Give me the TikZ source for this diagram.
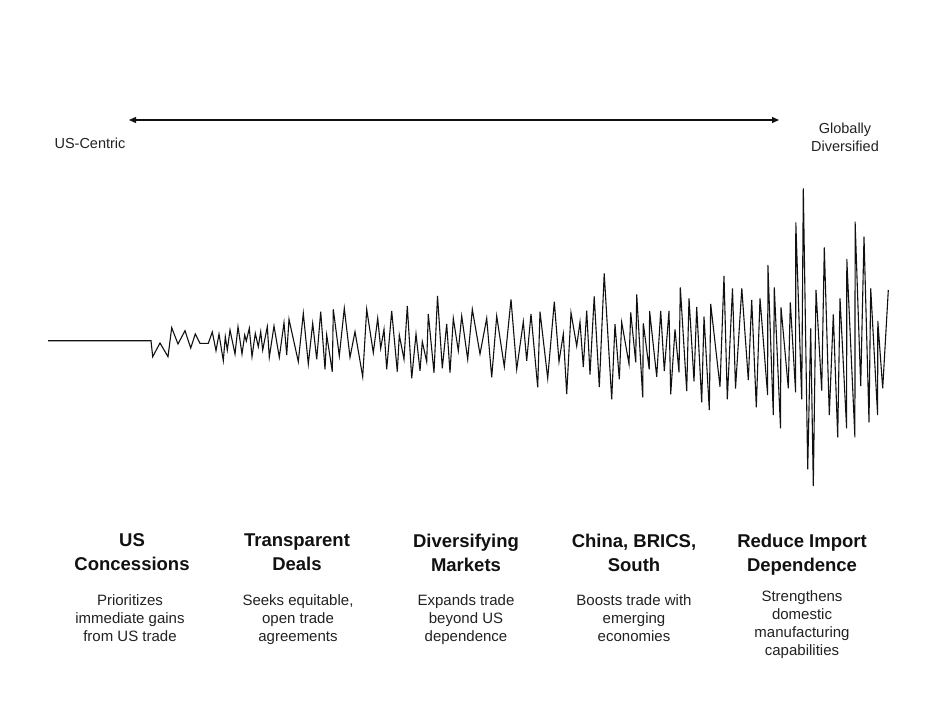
\documentclass[tikz,border=0pt]{standalone}
\usepackage{fontspec}
\setmainfont{Liberation Sans}
\usetikzlibrary{arrows.meta}
\definecolor{inkc}{HTML}{111111}
\definecolor{descc}{HTML}{222222}
\tikzset{
  titletext/.style={anchor=north, inner sep=0pt, align=center, text=inkc,
    font=\fontsize{18.5}{24}\selectfont\bfseries},
  desctext/.style={anchor=north, inner sep=0pt, align=center, text=descc,
    font=\fontsize{15}{18}\selectfont},
  endlabel/.style={inner sep=0pt, align=center, text=descc,
    font=\fontsize{14.5}{18}\selectfont},
  spanarrow/.style={line width=1.2pt, draw=inkc,
    {Triangle[length=7pt,width=6pt]}-{Triangle[length=7pt,width=6pt]}},
  wave/.style={line width=1.1pt, draw=inkc, line join=miter}
}
\begin{document}
\begin{tikzpicture}[x=1pt,y=-1pt]
\useasboundingbox (0,0) rectangle (936,720);
\fill[white] (0,0) rectangle (936,720);

% top spectrum arrow
\coordinate (al) at (129,120);
\coordinate (ar) at (779,120);
\draw[spanarrow] (al) -- (ar);
\node[endlabel, anchor=base] (uscentric) at (90,148.3) {US-Centric};
\node[endlabel, anchor=north] (global) at (845,122.8) {Globally\\Diversified};

% waveform
\draw[wave] (48,340.7) -- (151,340.7)
 -- (152.7,356.7) -- (160,343) -- (168,356.7) -- (171.7,327.7) -- (178,344)
 -- (185,330.7) -- (190.7,348) -- (195.3,334) -- (200,343.3) -- (208.3,343.3)
 -- (212.3,332) -- (216,350.7) -- (219,334) -- (223.3,360.7) -- (225.3,336.7)
 -- (227.3,350) -- (230,330) -- (235,354) -- (238,326.7) -- (242,354)
 -- (244.7,335) -- (246.3,341) -- (249.3,328.3) -- (252,356.7) -- (255.3,333.3)
 -- (258.3,346.7) -- (260.7,331.7) -- (262.7,350) -- (267.3,326.7) -- (269.3,357.3)
 -- (274,326) -- (279.3,357.3) -- (284,322.7) -- (286.7,355) -- (289,319.3)
 -- (298.3,361.7) -- (303.3,313.3) -- (308.3,364) -- (312.7,323.3) -- (316.7,359.3)
 -- (320.7,311.7) -- (325,369.3) -- (326.7,335) -- (332.3,371.7) -- (333.3,309.3)
 -- (339.3,356) -- (344.3,308.3) -- (350,357.3) -- (355,331.7) -- (362.7,376.7)
 -- (366.7,309.3) -- (373.3,352.7) -- (377.7,318.3) -- (380.7,348.3) -- (384,329.3)
 -- (386.7,369.3) -- (391.7,311) -- (397.3,371.7) -- (399.3,335) -- (404,359.3)
 -- (407.3,306) -- (411.7,378.3) -- (416,334) -- (420,370.7) -- (422.3,341.7)
 -- (426.7,361.7) -- (428.3,314) -- (434,372.7) -- (437.5,296)
 -- (442.3,368.3) -- (446.7,324) -- (450,372.7) -- (453.3,318.3) -- (458.3,350.7)
 -- (461.7,316) -- (467.7,359.3) -- (472.3,309.3) -- (480,354) -- (486.7,318.3)
 -- (491.7,377.3) -- (496.7,316) -- (504.3,366.7) -- (511,299.3) -- (516.7,369.3)
 -- (523.3,321.7) -- (526.7,360.7) -- (531,314) -- (537.7,387.3) -- (540,311.7)
 -- (547.7,378.3) -- (554.3,301.7) -- (559,361.7) -- (563.3,334) -- (566.7,394)
 -- (571,312.7) -- (576.7,346) -- (580,322)
 -- (583.3,367) -- (586.7,310.7) -- (590,374.5) -- (594.2,296.3) -- (599.3,387)
 -- (604.2,273.3) -- (611.7,399.3) -- (615,324.2) -- (619.3,379.3) -- (621.7,322.3)
 -- (629,364) -- (630.7,312.3) -- (635.7,362.3) -- (636.7,294.3) -- (642.7,397.3)
 -- (643.3,323.3) -- (649.2,369.3) -- (649.6,311) -- (656.7,376.7) -- (660.7,311)
 -- (664.3,371) -- (669,311) -- (670.7,394.3) -- (675,329.3) -- (679,372.3)
 -- (680.3,287.3) -- (686.7,391) -- (689,298.3) -- (694,381.3) -- (696.7,307)
 -- (701.7,402.3) -- (704,316.7) -- (709.3,410) -- (710.7,304) -- (720,386.7)
 -- (724,276) -- (727.3,399.3) -- (732.5,288.3) -- (735.5,388.5) -- (741.8,288.3)
 -- (748.3,380) -- (751.7,300) -- (756.3,407.3) -- (760,298.3) -- (767.6,395)
 -- (767.9,265) -- (773.3,415) -- (774.3,287.3) -- (780.5,428.3) -- (781,307.3)
 -- (788.3,388.3) -- (790.3,302.3) -- (795.6,392.3) -- (795.8,222.3) -- (801.7,399.3)
 -- (803.3,188.3) -- (807.7,469.3) -- (810.7,328.3) -- (813.3,486) -- (816,290)
 -- (821.7,390.7) -- (824.3,247.3) -- (829.3,415) -- (833.3,314.3) -- (837.7,437.3)
 -- (840,298.3) -- (846.6,428.3) -- (846.8,259) -- (854.9,437.3) -- (855.1,221.7)
 -- (860.7,386) -- (864,236.7) -- (869,422.3) -- (870.7,288.3) -- (877.6,415)
 -- (877.8,321) -- (882.7,388.3) -- (888.3,290);

% column titles
\node[titletext] (t1) at (132,533.4) {US\\Concessions};
\node[titletext] (t2) at (297,533.4) {Transparent\\Deals};
\node[titletext] (t3) at (466,533.4) {Diversifying\\Markets};
\node[titletext] (t4) at (634,533.4) {China, BRICS,\\South};
\node[titletext] (t5) at (802,533.4) {Reduce Import\\Dependence};

% column descriptions
\node[desctext] (d1) at (130,594.6) {Prioritizes\\immediate gains\\from US trade};
\node[desctext] (d2) at (298,594.6) {Seeks equitable,\\open trade\\agreements};
\node[desctext] (d3) at (466,594.6) {Expands trade\\beyond US\\dependence};
\node[desctext] (d4) at (634,594.6) {Boosts trade with\\emerging\\economies};
\node[desctext] (d5) at (802,590.6) {Strengthens\\domestic\\manufacturing\\capabilities};
\end{tikzpicture}
\end{document}
